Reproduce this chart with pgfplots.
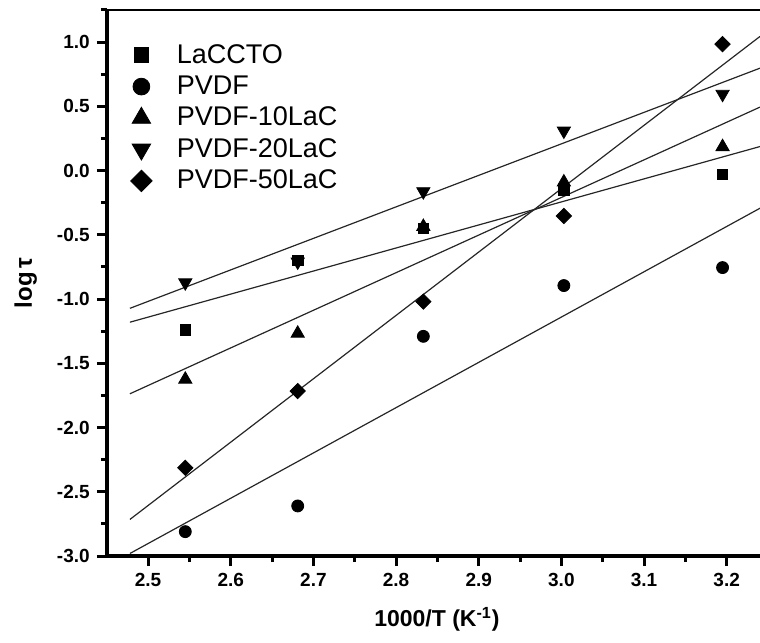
\documentclass[border=0pt]{standalone}
\usepackage{pgfplots}
\pgfplotsset{compat=1.18}
\usepackage{fontspec}
\setmainfont{Liberation Sans}
\begin{document}
\begin{tikzpicture}
\begin{axis}[
  scale only axis, width=326.4pt, height=273.2pt,
  xmin=2.45, xmax=3.2403, ymin=-3.0, ymax=1.255,
  axis x line*=bottom, axis y line*=left,
  axis line style={line width=2pt},
  xtick={2.5,2.6,2.7,2.8,2.9,3.0,3.1,3.2},
  minor xtick={2.55,2.65,2.75,2.85,2.95,3.05,3.15},
  ytick={-3,-2.5,-2,-1.5,-1,-0.5,0,0.5,1},
  minor ytick={-2.75,-2.25,-1.75,-1.25,-0.75,-0.25,0.25,0.75,1.25},
  tick align=outside,
  major tick length=5pt, minor tick length=3pt,
  every tick/.style={black, line width=1.5pt},
  tick label style={font=\bfseries\fontsize{9.5}{11}\selectfont, black},
  xlabel={\bfseries 1000/T (K\textsuperscript{-1})},
  xlabel style={at={(axis description cs:0.5054,-0.116)}, anchor=center, font=\fontsize{11.5}{14}\selectfont},
  ylabel={\bfseries log\,τ},
  ylabel style={at={(axis description cs:-0.124,0.5)}, anchor=center, font=\fontsize{12}{14}\selectfont},
  legend style={draw=none, fill=none, inner sep=0pt, outer sep=0pt,
    at={(rel axis cs:0,1)}, anchor=north west, xshift=8.8pt, yshift=-17.5pt,
    font=\fontsize{13.5}{15}\selectfont, row sep=4.8pt,
    nodes={inner sep=0pt}},
  legend cell align=left,
  legend image code/.code={
    \draw[#1] plot[only marks, every mark/.append style={scale=1.4}]
      coordinates {(8.5pt,0pt)};
    \path[draw=none, fill=none] (0pt,0pt) -- (26.2pt,0pt);
  },
  /pgf/number format/fixed,
  /pgf/number format/fixed zerofill,
  /pgf/number format/precision=1,
  /pgf/number format/assume math mode=true,
]
\draw[line width=2pt, line cap=rect] (rel axis cs:0,1) -- (rel axis cs:1,1);
\coordinate (SW) at (rel axis cs:0,0);
\coordinate (NE) at (rel axis cs:1,1);

\addplot[only marks, mark=square*, mark size=2.65pt, black]
  coordinates {(2.545,-1.24) (2.681,-0.70) (2.833,-0.45) (3.003,-0.15) (3.195,-0.03)};
\addlegendentry{LaCCTO}
\addplot[only marks, mark=*, mark size=3pt, black]
  coordinates {(2.545,-2.81) (2.681,-2.61) (2.833,-1.29) (3.003,-0.895) (3.195,-0.755)};
\addlegendentry{PVDF}
\addplot[only marks, mark=triangle*, mark size=3.8pt, black]
  coordinates {(2.545,-1.625) (2.681,-1.267) (2.833,-0.436) (3.003,-0.09) (3.195,0.185)};
\addlegendentry{PVDF-10LaC}
\addplot[only marks, mark=triangle*, mark options={rotate=180}, mark size=3.8pt, black]
  coordinates {(2.545,-0.872) (2.681,-0.71) (2.833,-0.163) (3.003,0.309) (3.195,0.595)};
\addlegendentry{PVDF-20LaC}
\addplot[only marks, mark=square*, mark options={rotate=45}, mark size=2.7pt, black]
  coordinates {(2.545,-2.313) (2.681,-1.716) (2.833,-1.02) (3.003,-0.353) (3.195,0.984)};
\addlegendentry{PVDF-50LaC}

\addplot[black!85, line width=0.6pt, forget plot] coordinates {(2.478,-1.18) (3.2403,0.187)};
\addplot[black!85, line width=0.6pt, forget plot] coordinates {(2.478,-2.98) (3.2403,-0.293)};
\addplot[black!85, line width=0.6pt, forget plot] coordinates {(2.478,-1.737) (3.2403,0.494)};
\addplot[black!85, line width=0.6pt, forget plot] coordinates {(2.478,-1.072) (3.2403,0.797)};
\addplot[black!85, line width=0.6pt, forget plot] coordinates {(2.478,-2.715) (3.2403,1.044)};
\end{axis}
\path (SW) ++(-53.35pt,-43.15pt) coordinate (A);
\path (NE) ++(0pt,4.65pt) coordinate (B);
\pgfresetboundingbox
\path[use as bounding box] (A) rectangle (B);
\end{tikzpicture}
\end{document}
